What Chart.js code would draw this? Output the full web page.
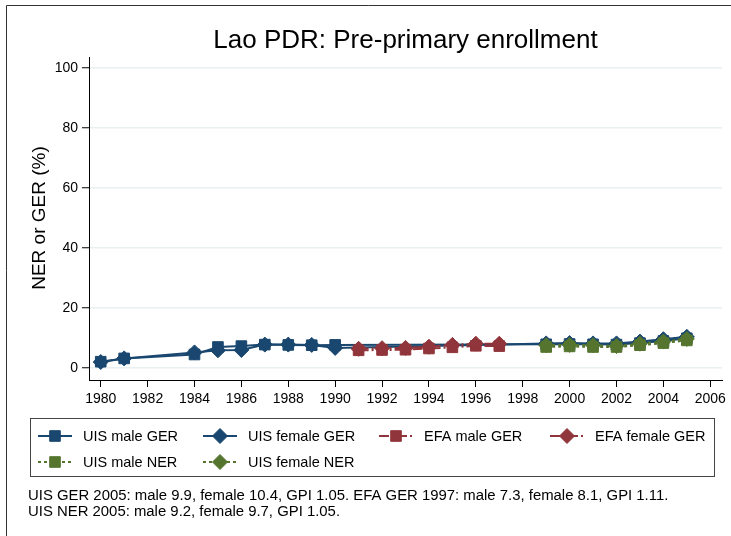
<!DOCTYPE html>
<html>
<head>
<meta charset="utf-8">
<script src="https://cdn.jsdelivr.net/npm/chart.js@4.4.1/dist/chart.umd.min.js"></script>
<style>
    html, body { margin: 0; padding: 0; background: #fff; }
    canvas { display: block; }
</style>
</head>
<body>
<canvas id="chart" width="731" height="536"></canvas>
<script>
const uisYears = [1980, 1981, 1984, 1985, 1986, 1987, 1988, 1989, 1990, 1999, 2000, 2001, 2002, 2003, 2004, 2005];
const uisMaleGER = [2.1, 3.2, 4.5, 7.0, 7.3, 7.8, 7.7, 7.6, 7.7, 7.9, 8.0, 7.9, 7.8, 8.3, 9.0, 9.9];
const uisFemaleGER = [2.0, 3.2, 5.2, 5.9, 6.0, 7.8, 7.8, 7.7, 6.7, 8.2, 8.3, 8.2, 8.2, 8.8, 9.6, 10.4];

const efaYears = [1991, 1992, 1993, 1994, 1995, 1996, 1997];
const efaMaleGER = [5.9, 6.0, 6.1, 6.5, 6.9, 7.4, 7.3];
const efaFemaleGER = [6.4, 6.6, 6.7, 7.1, 7.7, 8.1, 8.1];

const nerYears = [1999, 2000, 2001, 2002, 2003, 2004, 2005];
const uisMaleNER = [7.0, 7.2, 7.0, 7.0, 7.6, 8.3, 9.2];
const uisFemaleNER = [7.6, 7.7, 7.6, 7.3, 8.1, 8.8, 9.7];

const xTicks = [1980, 1982, 1984, 1986, 1988, 1990, 1992, 1994, 1996, 1998, 2000, 2002, 2004, 2006];
const yTicks = [0, 20, 40, 60, 80, 100];

const chartTitle = 'Lao PDR: Pre-primary enrollment';
const yTitle = 'NER or GER (%)';
const noteLines = [
    'UIS GER 2005: male 9.9, female 10.4, GPI 1.05. EFA GER 1997: male 7.3, female 8.1, GPI 1.11.',
    'UIS NER 2005: male 9.2, female 9.7, GPI 1.05.'
];

const BLUE = '#1a476f';
const RED = '#90353b';
const GREEN = '#55752f';
const FONT = '"Liberation Sans", Arial, sans-serif';

function points(years, values) {
    return years.map((y, i) => ({x: y, y: values[i]}));
}

function series(label, years, values, color, shape, dash, order) {
    return {
        label: label,
        data: points(years, values),
        borderColor: color,
        backgroundColor: color,
        borderWidth: 2,
        borderDash: dash,
        pointStyle: shape,
        pointRadius: 7.5,
        pointBorderWidth: 1,
        pointBorderColor: color,
        pointBackgroundColor: color,
        tension: 0,
        order: order
    };
}

// titles, legend box, note and frame are drawn by hand
const extras = {
    id: 'extras',
    afterDraw(chart) {
        let ctx = chart.ctx;
        ctx.save();

        ctx.strokeStyle = '#333';
        ctx.lineWidth = 1;
        ctx.beginPath();
        ctx.moveTo(6.5, 536);
        ctx.lineTo(6.5, 5.5);
        ctx.lineTo(731, 5.5);
        ctx.stroke();

        ctx.fillStyle = '#000';
        ctx.font = '26px ' + FONT;
        ctx.textAlign = 'center';
        ctx.textBaseline = 'alphabetic';
        let area = chart.chartArea;
        ctx.fillText(chartTitle, (area.left + area.right) / 2, 48);

        ctx.save();
        ctx.translate(45, 218);
        ctx.rotate(-Math.PI / 2);
        ctx.font = '19px ' + FONT;
        ctx.fillText(yTitle, 0, 0);
        ctx.restore();

        // legend
        ctx.strokeStyle = '#444';
        ctx.strokeRect(30.5, 418.5, 684, 58);
        let cols = [38, 203, 379, 550];
        let rows = [436, 462];
        ctx.font = '14.5px ' + FONT;
        ctx.textAlign = 'left';
        ctx.textBaseline = 'middle';
        chart.data.datasets.forEach((ds, i) => {
            let x = cols[i % 4];
            let y = rows[Math.floor(i / 4)];
            ctx.strokeStyle = ds.borderColor;
            ctx.lineWidth = 2;
            ctx.setLineDash(ds.borderDash || []);
            ctx.beginPath();
            ctx.moveTo(x, y);
            ctx.lineTo(x + 34, y);
            ctx.stroke();
            ctx.setLineDash([]);
            ctx.fillStyle = ds.backgroundColor;
            ctx.lineWidth = 1;
            Chart.helpers.drawPoint(ctx, {pointStyle: ds.pointStyle, radius: 7.5, rotation: 0, borderWidth: 1}, x + 17, y);
            ctx.fillStyle = '#000';
            ctx.fillText(ds.label, x + 45, y + 1);
        });

        ctx.font = '14.9px ' + FONT;
        ctx.textBaseline = 'alphabetic';
        ctx.fillText(noteLines[0], 28, 500);
        ctx.fillText(noteLines[1], 28, 516);
        ctx.restore();
    }
};

function enrollmentChart(id) {
    const data = {
        datasets: [
            series('UIS male GER', uisYears, uisMaleGER, BLUE, 'rect', [], 6),
            series('UIS female GER', uisYears, uisFemaleGER, BLUE, 'rectRot', [], 5),
            series('EFA male GER', efaYears, efaMaleGER, RED, 'rect', [10, 3, 2, 3], 4),
            series('EFA female GER', efaYears, efaFemaleGER, RED, 'rectRot', [10, 3, 2, 3], 3),
            series('UIS male NER', nerYears, uisMaleNER, GREEN, 'rect', [3, 3], 2),
            series('UIS female NER', nerYears, uisFemaleNER, GREEN, 'rectRot', [3, 3], 1)
        ]
    };
    const config = {
        type: 'line',
        data: data,
        options: {
            responsive: false,
            animation: false,
            events: [],
            layout: {padding: {top: 57, right: 9, bottom: 126, left: 0}},
            plugins: {
                legend: {display: false},
                title: {display: false},
                tooltip: {enabled: false}
            },
            scales: {
                x: {
                    type: 'linear',
                    min: 1979.5,
                    max: 2006.5,
                    afterBuildTicks: (s) => { s.ticks = xTicks.map(v => ({value: v})); },
                    afterFit: (s) => { s.height = 30; },
                    grid: {drawOnChartArea: false, drawTicks: true, tickLength: 7, tickColor: '#000', tickWidth: 1},
                    border: {display: true, color: '#000', width: 1},
                    ticks: {color: '#000', font: {size: 14, family: FONT}, padding: 4, maxRotation: 0, autoSkip: false,
                        callback: (v) => String(v)}
                },
                y: {
                    type: 'linear',
                    min: -4,
                    max: 103.67,
                    afterBuildTicks: (s) => { s.ticks = yTicks.map(v => ({value: v})); },
                    afterFit: (s) => { s.width = 89; },
                    grid: {color: '#e8f0f2', lineWidth: 1.5, drawTicks: true, tickLength: 7, tickColor: '#000', tickWidth: 1},
                    border: {display: true, color: '#000', width: 1},
                    ticks: {color: '#000', font: {size: 14, family: FONT}, padding: 4, autoSkip: false}
                }
            }
        },
        plugins: [extras]
    };

    let ctx = document.getElementById(id).getContext('2d');
    new Chart(ctx, config);
}

enrollmentChart('chart');
</script>
</body>
</html>
